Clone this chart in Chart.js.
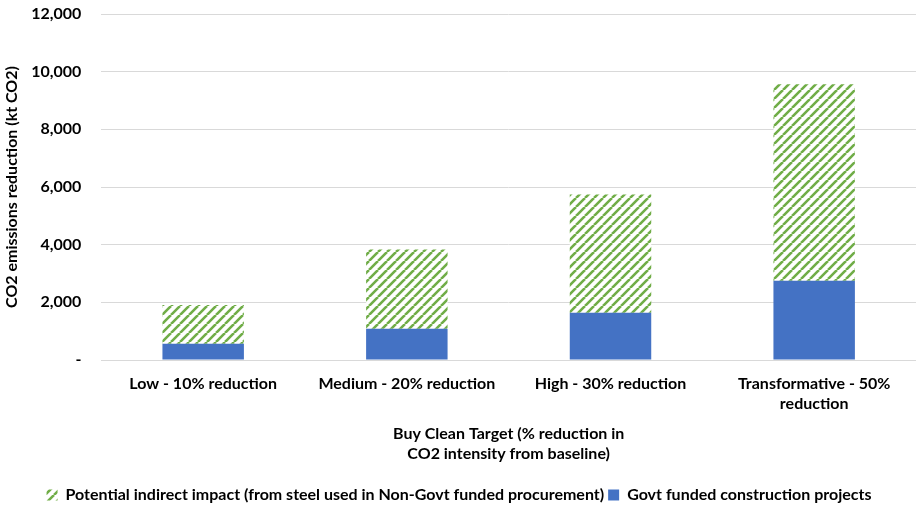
<!DOCTYPE html>
<html>
<head>
<meta charset="utf-8">
<script src="https://cdn.jsdelivr.net/npm/chart.js@4"></script>
<style>
  html, body { margin: 0; padding: 0; background: #fff; }
  #wrap { width: 916px; height: 507px; position: relative; }
</style>
</head>
<body>
<div id="wrap"><canvas id="chart"></canvas></div>
<script>
// Chart data
const categories = [
  'Low - 10% reduction',
  'Medium - 20% reduction',
  'High - 30% reduction',
  ['Transformative - 50%', 'reduction'],
];
const govtFunded = [560, 1080, 1640, 2750];
const indirectImpact = [1350, 2750, 4100, 6810];
const yTicks = [0, 2000, 4000, 6000, 8000, 10000, 12000];

const GREEN = '#70ad47';
const BLUE = '#4472c4';
const FONT = 'Lato, "Open Sans", sans-serif';

// Diagonal hatch pattern for the indirect-impact series
function makeHatch(color) {
  const size = 9;
  const c = document.createElement('canvas');
  c.width = size;
  c.height = size;
  const ctx = c.getContext('2d');
  ctx.fillStyle = '#fff';
  ctx.fillRect(0, 0, size, size);
  ctx.strokeStyle = color;
  ctx.lineWidth = 2.6;
  ctx.beginPath();
  for (let o = -size; o <= size; o += size) {
    ctx.moveTo(o, size);
    ctx.lineTo(o + size, 0);
  }
  ctx.stroke();
  return ctx.createPattern(c, 'repeat');
}

const ctx = document.getElementById('chart').getContext('2d');
const hatch = makeHatch(GREEN);

new Chart(ctx, {
  type: 'bar',
  data: {
    labels: categories,
    datasets: [
      {
        label: 'Govt funded construction projects',
        data: govtFunded,
        backgroundColor: BLUE,
        barPercentage: 0.8,
        categoryPercentage: 0.5,
      },
      {
        label: 'Potential indirect impact (from steel used in Non-Govt funded procurement)',
        data: indirectImpact,
        backgroundColor: hatch,
        barPercentage: 0.8,
        categoryPercentage: 0.5,
      },
    ],
  },
  options: {
    responsive: true,
    maintainAspectRatio: false,
    animation: false,
    layout: { padding: { top: 14, right: 0, left: 2, bottom: -6 } },
    plugins: {
      legend: {
        position: 'bottom',
        reverse: true,
        labels: {
          boxWidth: 11,
          boxHeight: 11,
          padding: 4,
          color: '#000',
          font: { family: FONT, size: 16, weight: 'bold' },
        },
      },
      tooltip: { enabled: false },
    },
    scales: {
      x: {
        stacked: true,
        grid: { display: false },
        border: { color: '#d9d9d9' },
        ticks: {
          color: '#000',
          padding: 6,
          font: { family: FONT, size: 16, weight: 'bold', lineHeight: 1.25 },
          maxRotation: 0,
        },
        title: {
          display: true,
          text: ['Buy Clean Target (% reduction in', 'CO2 intensity from baseline)'],
          color: '#000',
          padding: { top: 4, bottom: 19 },
          font: { family: FONT, size: 16, weight: 'bold', lineHeight: 1.25 },
        },
      },
      y: {
        stacked: true,
        min: 0,
        max: 12000,
        afterBuildTicks: (axis) => {
          axis.ticks = yTicks.map((v) => ({ value: v }));
        },
        // invisible tick marks give the gap between labels and plot
        grid: { color: '#d9d9d9', drawTicks: true, tickLength: 18, tickColor: 'rgba(0,0,0,0)' },
        border: { display: false },
        ticks: {
          color: '#000',
          padding: 2,
          font: { family: FONT, size: 16, weight: 'bold' },
          callback: (v) => (v === 0 ? '-' : v.toLocaleString('en-US')),
        },
        title: {
          display: true,
          text: 'CO2 emissions reduction (kt CO2)',
          color: '#000',
          padding: { top: 0, bottom: 8 },
          font: { family: FONT, size: 16, weight: 'bold' },
        },
      },
    },
  },
});
</script>
</body>
</html>
